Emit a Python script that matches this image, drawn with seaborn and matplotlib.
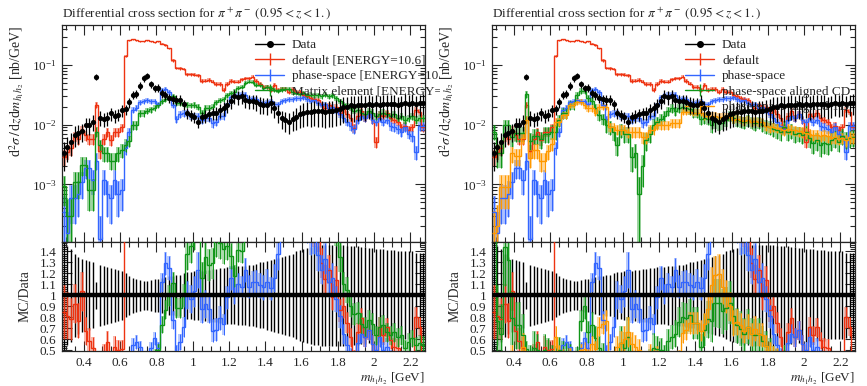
import numpy as np
import matplotlib
matplotlib.use("Agg")
import matplotlib.pyplot as plt
import seaborn as sns
from matplotlib.lines import Line2D
from matplotlib.patches import Rectangle
from matplotlib.ticker import MultipleLocator, AutoMinorLocator, LogLocator, NullFormatter, FormatStrFormatter

# %% binning: 100 bins of 0.02 GeV in m_h1h2
bin_edges = np.round(np.arange(0.28, 2.28 + 0.01, 0.02), 3)
bin_centers = 0.5 * (bin_edges[:-1] + bin_edges[1:])

# %% measured cross section (nb/GeV) and relative uncertainty
data_vals = [
    0.0034, 0.0043, 0.0051, 0.0068, 0.0074, 0.0078, 0.0099, 0.0099, 0.0112, 0.064,
    0.0131, 0.0125, 0.013, 0.0155, 0.014, 0.0148, 0.0176, 0.018, 0.0237, 0.032,
    0.033, 0.045, 0.060, 0.066, 0.048, 0.041, 0.042, 0.034, 0.031, 0.028,
    0.027, 0.026, 0.026, 0.022, 0.0155, 0.0145, 0.0135, 0.0112, 0.0135, 0.0141,
    0.0149, 0.0155, 0.016, 0.0176, 0.019, 0.0214, 0.025, 0.0306, 0.029, 0.0306,
    0.026, 0.025, 0.025, 0.024, 0.022, 0.0214, 0.0214, 0.0235, 0.019, 0.016,
    0.0128, 0.0118, 0.0113, 0.0125, 0.0136, 0.015, 0.016, 0.0165, 0.0165, 0.017,
    0.0168, 0.017, 0.0165, 0.017, 0.0172, 0.0175, 0.0185, 0.02, 0.02, 0.021,
    0.0205, 0.021, 0.0215, 0.021, 0.022, 0.0215, 0.022, 0.021, 0.022, 0.0225,
    0.022, 0.0225, 0.021, 0.022, 0.023, 0.0225, 0.023, 0.022, 0.023, 0.0235,
]
data_relerr = [
    0.5, 0.45, 0.42, 0.38, 0.35, 0.33, 0.32, 0.31, 0.3, 0.12,
    0.28, 0.27, 0.26, 0.25, 0.24, 0.23, 0.22, 0.2, 0.18, 0.16,
    0.15, 0.14, 0.13, 0.13, 0.14, 0.15, 0.15, 0.16, 0.17, 0.18,
    0.18, 0.19, 0.19, 0.2, 0.21, 0.21, 0.22, 0.22, 0.22, 0.23,
    0.23, 0.24, 0.24, 0.25, 0.25, 0.26, 0.26, 0.26, 0.27, 0.27,
    0.27, 0.28, 0.28, 0.29, 0.3, 0.3, 0.31, 0.32, 0.33, 0.34,
    0.35, 0.36, 0.37, 0.38, 0.4, 0.41, 0.42, 0.43, 0.44, 0.45,
    0.45, 0.46, 0.46, 0.46, 0.46, 0.46, 0.46, 0.46, 0.45, 0.45,
    0.45, 0.45, 0.44, 0.44, 0.43, 0.43, 0.42, 0.42, 0.42, 0.41,
    0.41, 0.41, 0.4, 0.4, 0.4, 0.4, 0.4, 0.39, 0.39, 0.39,
]

# %% MC predictions
default_vals = [
    0.0029, 0.0035, 0.004, 0.0063, 0.0057, 0.0081, 0.0067, 0.0058, 0.0058, 0.0214,
    0.0036, 0.0058, 0.0075, 0.0055, 0.0075, 0.0075, 0.009, 0.14, 0.26, 0.27,
    0.26, 0.25, 0.25, 0.26, 0.25, 0.24, 0.25, 0.23, 0.22, 0.19,
    0.12, 0.09, 0.088, 0.086, 0.07, 0.07, 0.069, 0.067, 0.054, 0.055,
    0.056, 0.053, 0.048, 0.048, 0.038, 0.048, 0.054, 0.053, 0.053, 0.058,
    0.06, 0.06, 0.064, 0.054, 0.049, 0.043, 0.043, 0.038, 0.046, 0.038,
    0.04, 0.04, 0.036, 0.04, 0.036, 0.036, 0.032, 0.03, 0.028, 0.027,
    0.026, 0.022, 0.019, 0.021, 0.017, 0.02, 0.016, 0.018, 0.015, 0.013,
    0.0088, 0.014, 0.017, 0.013, 0.015, 0.012, 0.0052, 0.015, 0.014, 0.016,
    0.013, 0.012, 0.011, 0.009, 0.0095, 0.008, 0.009, 0.0176, 0.0165, 0.009,
]
phase_space_vals = [
    0.00035, 0.00015, 0.0006, 0.0006, 0.0007, 0.0011, 0.0019, 0.0019, 0.0012, 0.0025,
    0.00012, 0.0012, 0.0007, 0.0006, 0.0012, 0.0007, 0.0008, 0.0041, 0.0075, 0.0176,
    0.019, 0.024, 0.025, 0.026, 0.025, 0.025, 0.022, 0.038, 0.04, 0.035,
    0.021, 0.0125, 0.015, 0.0157, 0.0155, 0.014, 0.014, 0.0138, 0.0118, 0.013,
    0.013, 0.0105, 0.011, 0.014, 0.014, 0.021, 0.029, 0.031, 0.032, 0.033,
    0.032, 0.027, 0.028, 0.027, 0.024, 0.023, 0.024, 0.025, 0.022, 0.022,
    0.025, 0.026, 0.027, 0.027, 0.028, 0.028, 0.029, 0.027, 0.025, 0.026,
    0.023, 0.021, 0.022, 0.019, 0.02, 0.017, 0.015, 0.013, 0.011, 0.0095,
    0.0085, 0.012, 0.014, 0.013, 0.015, 0.012, 0.011, 0.013, 0.011, 0.012,
    0.0095, 0.009, 0.0085, 0.0075, 0.009, 0.007, 0.0065, 0.0035, 0.0095, 0.0095,
]
matrix_element_vals = [
    0.00092, 0.0003, 0.0003, 0.0011, 0.0011, 0.0021, 0.0021, 0.0008, 0.0008, 0.0076,
    0.0045, 0.0033, 0.0033, 0.0025, 0.0025, 0.0033, 0.0037, 0.0046, 0.0054, 0.0098,
    0.0098, 0.0157, 0.0157, 0.017, 0.018, 0.019, 0.021, 0.025, 0.027, 0.028,
    0.03, 0.023, 0.023, 0.022, 0.0214, 0.021, 0.0214, 0.02, 0.0156, 0.019,
    0.019, 0.02, 0.024, 0.026, 0.027, 0.031, 0.034, 0.036, 0.041, 0.043,
    0.05, 0.053, 0.052, 0.046, 0.047, 0.042, 0.043, 0.041, 0.038, 0.037,
    0.039, 0.04, 0.04, 0.035, 0.034, 0.033, 0.034, 0.031, 0.032, 0.031,
    0.031, 0.03, 0.032, 0.03, 0.031, 0.028, 0.025, 0.022, 0.021, 0.019,
    0.017, 0.0176, 0.016, 0.015, 0.017, 0.016, 0.014, 0.015, 0.016, 0.015,
    0.014, 0.015, 0.013, 0.014, 0.012, 0.013, 0.014, 0.012, 0.013, 0.013,
]
aligned_cd_vals = [
    0.0076, 0.0033, 0.0033, 0.0098, 0.0098, 0.0062, 0.0072, 0.0072, 0.0072, 0.033,
    0.0054, 0.0065, 0.0065, 0.0058, 0.007, 0.007, 0.0076, 0.0076, 0.012, 0.0157,
    0.0157, 0.0214, 0.0214, 0.031, 0.037, 0.037, 0.028, 0.025, 0.019, 0.0147,
    0.0125, 0.0098, 0.009, 0.0075, 0.0046, 0.0082, 0.007, 0.007, 0.0029, 0.0033,
    0.0007, 0.002, 0.0055, 0.007, 0.01, 0.011, 0.0125, 0.014, 0.017, 0.019,
    0.017, 0.019, 0.02, 0.019, 0.018, 0.016, 0.016, 0.0125, 0.013, 0.0125,
    0.0098, 0.011, 0.0105, 0.0107, 0.012, 0.014, 0.013, 0.012, 0.0115, 0.011,
    0.012, 0.011, 0.0105, 0.011, 0.01, 0.0095, 0.009, 0.0085, 0.008, 0.0075,
    0.009, 0.0075, 0.008, 0.007, 0.0072, 0.0068, 0.0075, 0.006, 0.005, 0.0055,
    0.0045, 0.005, 0.0048, 0.0055, 0.006, 0.0052, 0.0065, 0.0058, 0.006, 0.0062,
]
aligned_td_vals = [
    0.00015, 0.0002, 0.0009, 0.0009, 0.0009, 0.0033, 0.003, 0.003, 0.006, 0.012,
    0.0028, 0.0037, 0.0037, 0.0025, 0.0025, 0.0036, 0.0048, 0.0112, 0.0112, 0.0143,
    0.0143, 0.0214, 0.0214, 0.024, 0.024, 0.021, 0.019, 0.019, 0.016, 0.02,
    0.02, 0.02, 0.0092, 0.0092, 0.0082, 0.0082, 0.0082, 0.0075, 0.0075, 0.0075,
    0.0075, 0.0062, 0.0062, 0.0082, 0.0082, 0.0098, 0.0098, 0.0098, 0.0098, 0.0107,
    0.0107, 0.0107, 0.0165, 0.0165, 0.0165, 0.016, 0.016, 0.016, 0.014, 0.014,
    0.014, 0.014, 0.0135, 0.0135, 0.0135, 0.0135, 0.012, 0.0125, 0.012, 0.0115,
    0.012, 0.011, 0.0115, 0.011, 0.011, 0.0095, 0.009, 0.0092, 0.0088, 0.0085,
    0.008, 0.0085, 0.0082, 0.008, 0.0078, 0.0075, 0.0072, 0.007, 0.0068, 0.0066,
    0.0065, 0.0068, 0.0064, 0.006, 0.0062, 0.0058, 0.006, 0.0055, 0.0062, 0.006,
]
# MC stat errors: err = sqrt(value * event_weight)
weight_default = 2.4e-4
weight_phase_space = 2.5e-4
weight_matrix_element = 2.5e-4
weight_aligned_cd = 6e-4
weight_aligned_td = 3e-4

title = r"Differential cross section for $\pi^+\pi^-$ $(0.95 < z < 1.)$"
labels_left = ["Data", "default [ENERGY=10.6]", "phase-space [ENERGY=10.6]",
               "Matrix element [ENERGY=10.6]"]
labels_right = ["Data", "default", "phase-space", "phase-space aligned CD",
                "phase-space aligned TD"]

c_red, c_blue, c_green, c_orange = "#EE3311", "#3366FF", "#109618", "#FF9900"

# %%
sns.set_theme(style="ticks")
plt.rcParams["font.family"] = ["Liberation Serif", "DejaVu Serif"]
plt.rcParams["mathtext.fontset"] = "stix"
plt.rcParams["font.size"] = 9.5
plt.rcParams["axes.linewidth"] = 0.9

data = np.array(data_vals)
data_err = data * np.array(data_relerr)

W, H = 867, 386
fig = plt.figure(figsize=(W / 100, H / 100), dpi=100)


def add_px_axes(x0, y0, x1, y1, z):
    return fig.add_axes([x0 / W, 1 - y1 / H, (x1 - x0) / W, (y1 - y0) / H], zorder=z)


def extend(a):
    return np.r_[a, a[-1]]


def draw_mc(ax, axr, vals, weight, color):
    v = np.array(vals)
    e = np.sqrt(v * weight)
    lo = np.clip(v - e, 1e-7, None)
    ax.fill_between(bin_edges, extend(lo), extend(v + e), step="post",
                    color=color, alpha=0.4, lw=0, zorder=2)
    ax.vlines(bin_centers, lo, v + e, color=color, lw=0.8, zorder=2)
    ax.stairs(v, bin_edges, baseline=None, color=color, lw=1.0, zorder=3)
    r, re = v / data, e / data
    axr.fill_between(bin_edges, extend(r - re), extend(r + re), step="post",
                     color=color, alpha=0.35, lw=0, zorder=2)
    axr.vlines(bin_centers, r - re, r + re, color=color, lw=0.7, zorder=2)
    axr.stairs(r, bin_edges, baseline=None, color=color, lw=1.0, zorder=3)


def draw_panel(x0, z, series, labels):
    ax = add_px_axes(x0, 25, x0 + 363, 241.5, z)
    axr = add_px_axes(x0, 241.5, x0 + 363, 351, z)

    # ratio: data uncertainty
    axr.vlines(bin_centers, 1 - np.array(data_relerr), 1 + np.array(data_relerr),
               color="black", lw=1.0, zorder=1)

    for vals, weight, color in series:
        draw_mc(ax, axr, vals, weight, color)

    ax.errorbar(bin_centers, data, yerr=data_err, xerr=0.01, fmt="none",
                ecolor="black", elinewidth=0.9, zorder=5)
    sns.scatterplot(x=bin_centers, y=data, ax=ax, color="black", s=14,
                    edgecolor="black", linewidth=0, zorder=6, legend=False)
    axr.stairs(data / data, bin_edges, baseline=None, color="black", lw=3.2, zorder=6)

    ax.set_yscale("log")
    ax.set_ylim(1.1e-4, 0.47)
    axr.set_ylim(0.495, 1.49)
    for a in (ax, axr):
        a.set_xlim(bin_edges[0], bin_edges[-1])
        a.xaxis.set_major_locator(MultipleLocator(0.2))
        a.xaxis.set_minor_locator(MultipleLocator(0.05))
        a.tick_params(which="both", direction="in", top=True, right=True,
                      labelsize=9.5, width=0.8, pad=4)
        a.tick_params(which="major", length=7)
        a.tick_params(which="minor", length=3.5)
    ax.yaxis.set_major_locator(LogLocator(base=10, numticks=10))
    ax.yaxis.set_minor_locator(LogLocator(base=10, subs=np.arange(2, 10), numticks=20))
    ax.yaxis.set_minor_formatter(NullFormatter())
    ax.tick_params(labelbottom=False)
    axr.yaxis.set_major_locator(MultipleLocator(0.1))
    axr.yaxis.set_minor_locator(AutoMinorLocator(5))
    axr.yaxis.set_major_formatter(FormatStrFormatter("%g"))
    axr.xaxis.set_major_formatter(FormatStrFormatter("%g"))

    ax.set_title(title, loc="left", fontsize=9.5, pad=5)
    ax.set_ylabel(r"d$^2\sigma\,/\,$d$z$d$m_{h_1h_2}$ [nb/GeV]", loc="top",
                  fontsize=10, labelpad=4)
    axr.set_ylabel("MC/Data", fontsize=10, labelpad=6)
    axr.set_xlabel(r"$m_{h_1h_2}$ [GeV]", loc="right", fontsize=9.5, labelpad=2)
    fig.align_ylabels([ax, axr])

    handles = [Line2D([], [], color="black", marker="o", ms=4, lw=1.0)]
    handles += [Line2D([], [], color=c, marker="|", ms=9, lw=1.0) for _, _, c in series]
    ax.legend(handles, labels, loc="upper left", bbox_to_anchor=(0.532, 0.935),
              frameon=False, fontsize=9.5, handlelength=2.2, handletextpad=0.6,
              labelspacing=0.25, borderpad=0, borderaxespad=0, numpoints=1)
    return ax, axr


draw_panel(62, 0, [(default_vals, weight_default, c_red),
                   (phase_space_vals, weight_phase_space, c_blue),
                   (matrix_element_vals, weight_matrix_element, c_green)], labels_left)

# right-hand plot sits on its own white canvas that hides the left legend overflow
fig.add_artist(Rectangle((440 / W, 0), 1 - 440 / W, 1, transform=fig.transFigure,
                         facecolor="white", edgecolor="none", zorder=1))

draw_panel(492, 2, [(default_vals, weight_default, c_red),
                    (phase_space_vals, weight_phase_space, c_blue),
                    (aligned_cd_vals, weight_aligned_cd, c_green),
                    (aligned_td_vals, weight_aligned_td, c_orange)], labels_right)

fig.savefig("out.png", dpi=100)
